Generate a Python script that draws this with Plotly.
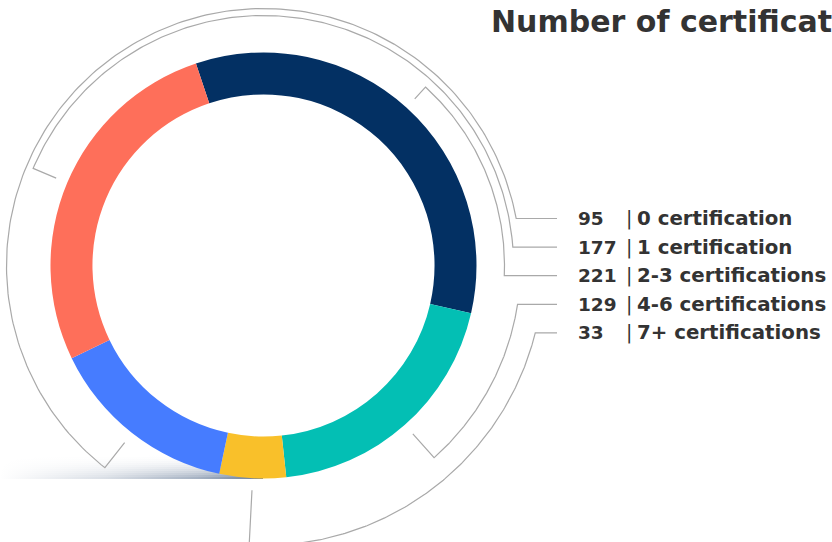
import numpy as np
import plotly.graph_objects as go

# ---------------- data ----------------
slice_labels = ["2-3 certifications", "4-6 certifications", "7+ certifications",
                "0 certification", "1 certification"]
slice_values = [221, 129, 33, 95, 177]
slice_colors = ["#033063", "#03BFB4", "#F9C02A", "#467CFF", "#FE6F5A"]

legend_labels = ["0 certification", "1 certification", "2-3 certifications",
                 "4-6 certifications", "7+ certifications"]
legend_counts = [95, 177, 221, 129, 33]
title_text = "Number of certifications"

# ---------------- layout constants ----------------
W, H = 832, 542
CX, CY = 263.5, 265.5
R_OUT = 213
HOLE = 0.803
ROT = -18.5
TICK_R0 = 225
arc_radius = {"0 certification": 257, "1 certification": 250, "2-3 certifications": 241,
              "4-6 certifications": 257, "7+ certifications": 280}
arc_dir = {"0 certification": 1, "1 certification": 1, "2-3 certifications": 1,
           "4-6 certifications": -1, "7+ certifications": -1}
ROW_Y0, ROW_DY = 218.5, 28.6
LINE_X_END = 557
NUM_X, BAR_X, TXT_X = 576, 624, 635
LINE_COLOR = "#A9A9A9"
TEXT_COLOR = "#333333"
NUM_FONT = dict(family="DejaVu Sans", size=18.5, color=TEXT_COLOR, weight=700)
BAR_FONT = dict(family="DejaVu Sans", size=19, color=TEXT_COLOR, weight=400)
TXT_FONT = dict(family="DejaVu Sans", size=19.8, color=TEXT_COLOR, weight=700)
TITLE_FONT = dict(family="DejaVu Sans", size=30, color=TEXT_COLOR, weight=700)


def pt(theta_deg, r):
    t = np.radians(theta_deg)
    return CX + r * np.sin(t), CY - r * np.cos(t)


fig = go.Figure()

# ---------------- shadow under the donut ----------------
n_str = 12
for i in range(n_str):
    y0 = 479 - 2 * i
    y1 = y0 - 2
    a = 0.8 * (1 - i / n_str) ** 2
    fig.add_trace(go.Scatter(
        x=[0, 263, 263, 0, 0], y=[y0, y0, y1, y1, y0], mode="lines",
        line=dict(width=0), fill="toself",
        fillgradient=dict(type="horizontal", start=0, stop=263,
                          colorscale=[[0, "rgba(70,95,130,0)"],
                                      [0.4, f"rgba(70,95,130,{a*0.25:.3f})"],
                                      [0.75, f"rgba(70,95,130,{a*0.6:.3f})"],
                                      [1, f"rgba(70,95,130,{a:.3f})"]]),
        hoverinfo="skip", showlegend=False))

# ---------------- leader lines ----------------
total = sum(slice_values)
cum = np.cumsum(slice_values)
annotations = []
for i, lab in enumerate(legend_labels):
    k = slice_labels.index(lab)
    mid = ROT + (cum[k] - slice_values[k] / 2) / total * 360
    mid = mid % 360
    r = arc_radius[lab]
    y_row = ROW_Y0 + i * ROW_DY
    th_end = np.degrees(np.arccos((CY - y_row) / r))
    if arc_dir[lab] > 0 and th_end < mid:
        th_end += 360
    xs, ys = [], []
    x0, y0 = pt(mid, TICK_R0)
    xs.append(x0); ys.append(y0)
    for th in np.linspace(mid, th_end, 200):
        x, y = pt(th, r)
        xs.append(x); ys.append(y)
    xs.append(LINE_X_END); ys.append(y_row)
    fig.add_trace(go.Scatter(x=xs, y=ys, mode="lines",
                             line=dict(color=LINE_COLOR, width=1.2),
                             hoverinfo="skip", showlegend=False))

    annotations.append(dict(x=NUM_X, y=y_row, xref="x", yref="y", text=str(legend_counts[i]),
                            xanchor="left", yanchor="middle", showarrow=False, font=NUM_FONT))
    annotations.append(dict(x=BAR_X, y=y_row, xref="x", yref="y", text="|",
                            xanchor="left", yanchor="middle", showarrow=False, font=BAR_FONT))
    annotations.append(dict(x=TXT_X, y=y_row, xref="x", yref="y", text=lab,
                            xanchor="left", yanchor="middle", showarrow=False, font=TXT_FONT))

annotations.append(dict(x=489, y=21, xref="x", yref="y", text=title_text,
                        xanchor="left", yanchor="middle", showarrow=False, font=TITLE_FONT))

# ---------------- donut ----------------
fig.add_trace(go.Pie(
    labels=slice_labels, values=slice_values, sort=False, direction="clockwise",
    rotation=ROT, hole=HOLE, textinfo="none", hoverinfo="label+value",
    marker=dict(colors=slice_colors, line=dict(width=0)),
    domain=dict(x=[(CX - R_OUT) / W, (CX + R_OUT) / W],
                y=[(H - CY - R_OUT) / H, (H - CY + R_OUT) / H]),
    showlegend=False))

fig.update_layout(
    width=W, height=H, margin=dict(l=0, r=0, t=0, b=0),
    paper_bgcolor="white", plot_bgcolor="white",
    xaxis=dict(range=[0, W], domain=[0, 1], visible=False, fixedrange=True),
    yaxis=dict(range=[H, 0], domain=[0, 1], visible=False, fixedrange=True),
    annotations=annotations, showlegend=False)

fig.write_html("out.html", config={"displayModeBar": False},
               post_script="document.body.style.margin='0';")
